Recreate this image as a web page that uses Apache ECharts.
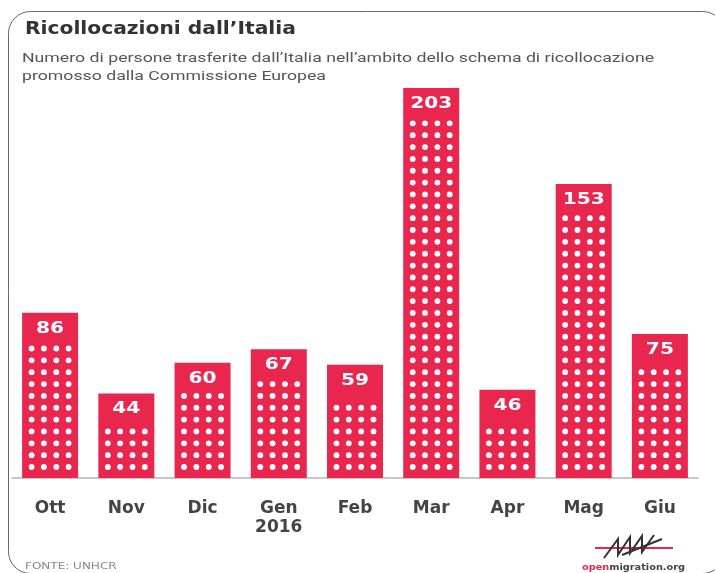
<!DOCTYPE html>
<html>
<head>
<meta charset="utf-8">
<script src="https://cdn.jsdelivr.net/npm/echarts@6/dist/echarts.min.js"></script>
<style>
  html, body { margin: 0; padding: 0; background: #fff; }
  #chart { width: 715px; height: 573px; }
</style>
</head>
<body>
<div id="chart"></div>
<script>
// Relocations from Italy, Oct 2015 – Jun 2016
const months = ['Ott', 'Nov', 'Dic', 'Gen\n2016', 'Feb', 'Mar', 'Apr', 'Mag', 'Giu'];
const relocated = [86, 44, 60, 67, 59, 203, 46, 153, 75];

const RED = '#e8264e';
const chart = echarts.init(document.getElementById('chart'));

// Value label plus a white dot grid inside each bar, filled from the baseline
// up to just below the label
function renderBarInside(params, api) {
  const idx = api.value(0);
  const val = api.value(1);
  const base = api.coord([idx, 0]);
  const top = api.coord([idx, val]);
  const cx = base[0];
  const cols = [-18.5, -6.2, 6.2, 18.5];
  const step = 11.85;
  const children = [{
    type: 'text',
    x: cx, y: top[1] + 16,
    scaleX: 1.3,
    style: {
      text: String(val),
      align: 'center', verticalAlign: 'middle',
      fontFamily: 'DejaVu Sans', fontWeight: 'bold', fontSize: 15.5,
      fill: '#fff'
    }
  }];
  for (let y = base[1] - 11; y - top[1] >= 32; y -= step) {
    for (const dx of cols) {
      children.push({
        type: 'circle',
        shape: { cx: cx + dx, cy: y, r: 2.9 },
        style: { fill: '#ffffff' }
      });
    }
  }
  return { type: 'group', children };
}

chart.setOption({
  animation: false,
  grid: { left: 12, right: 17, top: 88, bottom: 95, containLabel: false },
  xAxis: {
    type: 'category',
    data: months,
    axisLine: { lineStyle: { color: '#b5b5b5', width: 1.5 } },
    axisTick: { show: false },
    axisLabel: {
      margin: 21,
      fontFamily: 'DejaVu Sans', fontWeight: 'bold', fontSize: 17, lineHeight: 19, color: '#444'
    }
  },
  yAxis: {
    type: 'value',
    min: 0, max: 203,
    show: false,
    splitLine: { show: false }
  },
  series: [
    {
      type: 'bar',
      data: relocated,
      barWidth: 56,
      itemStyle: { color: RED }
    },
    {
      type: 'custom',
      data: relocated.map((v, i) => [i, v]),
      renderItem: renderBarInside,
      silent: true,
      z: 5
    }
  ],
  graphic: [
    {
      type: 'rect',
      shape: { x: 8.5, y: 11.5, width: 716, height: 562, r: 22 },
      style: { fill: 'none', stroke: '#666', lineWidth: 1 },
      z: -1
    },
    {
      type: 'text', x: 25, y: 21, scaleX: 1.19,
      style: {
        text: 'Ricollocazioni dall\u2019Italia',
        fontFamily: 'DejaVu Sans', fontWeight: 'bold', fontSize: 17, fill: '#333'
      }
    },
    {
      type: 'text', x: 22, y: 50, scaleX: 1.31,
      style: {
        text: 'Numero di persone trasferite dall\u2019Italia nell\u2019ambito dello schema di ricollocazione\npromosso dalla Commissione Europea',
        fontFamily: 'Roboto', fontSize: 13.5, lineHeight: 18, fill: '#555'
      }
    },
    {
      type: 'text', x: 25, y: 563, scaleX: 1.5,
      style: {
        text: 'FONTE: UNHCR',
        fontFamily: 'DejaVu Sans', fontSize: 8, fill: '#888'
      }
    },
    // openmigration.org mark
    {
      type: 'group', x: 582, y: 533,
      children: [
        { type: 'line', shape: { x1: 13, y1: 15, x2: 91, y2: 15 }, style: { stroke: RED, lineWidth: 2 } },
        { type: 'polyline', shape: { points: [[22, 25], [36, 6], [36, 22], [48, 4], [48, 20], [60, 3], [60, 19], [72, 2]] }, style: { stroke: '#333', lineWidth: 2, fill: 'none' } },
        { type: 'line', shape: { x1: 40, y1: 22, x2: 80, y2: 6 }, style: { stroke: '#333', lineWidth: 2 } },
        {
          type: 'text', x: 0, y: 31, scaleX: 1.22,
          style: {
            text: '{r|open}{k|migration.org}',
            rich: {
              r: { fontFamily: 'DejaVu Sans', fontWeight: 'bold', fontSize: 8, fill: RED },
              k: { fontFamily: 'DejaVu Sans', fontWeight: 'bold', fontSize: 8, fill: '#444' }
            }
          }
        }
      ]
    }
  ]
});
</script>
</body>
</html>
